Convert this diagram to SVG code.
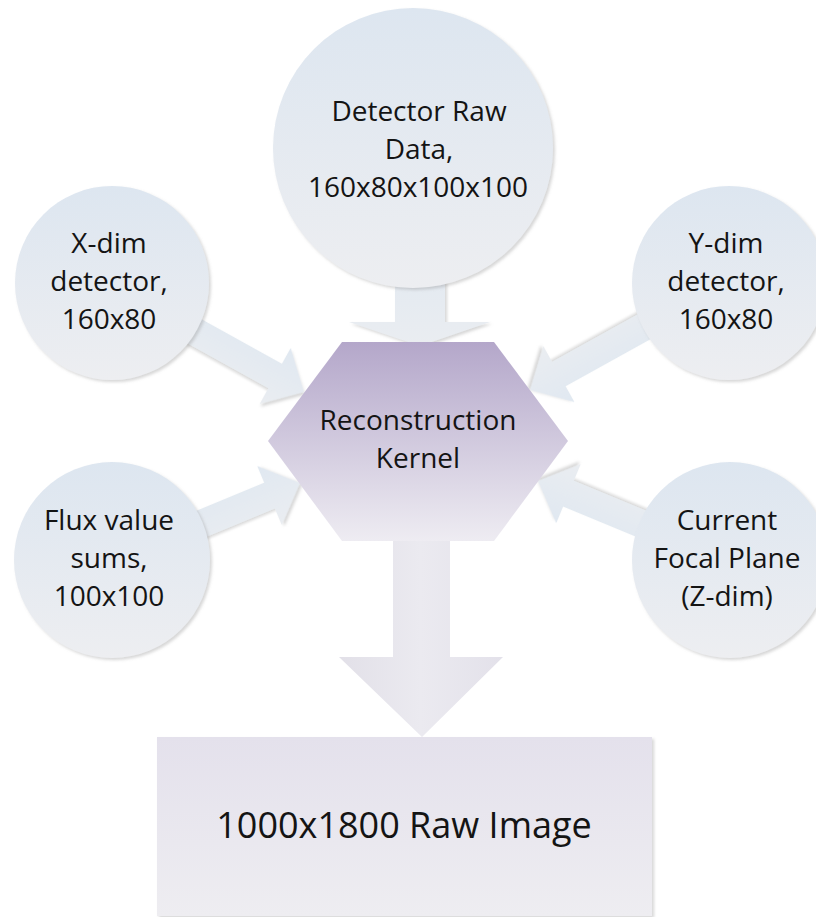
<svg xmlns="http://www.w3.org/2000/svg" width="816" height="917" viewBox="0 0 816 917">
  <defs>
    <linearGradient id="circleFill" x1="0" y1="0" x2="0" y2="1">
      <stop offset="0" stop-color="#dde6f0"/>
      <stop offset="1" stop-color="#edeef1"/>
    </linearGradient>
    <linearGradient id="arrowFill" x1="0" y1="0" x2="0" y2="1">
      <stop offset="0" stop-color="#e0e8f1"/>
      <stop offset="1" stop-color="#eaedf1"/>
    </linearGradient>
    <linearGradient id="kernelFill" x1="0" y1="0" x2="0" y2="1">
      <stop offset="0" stop-color="#b4a7ca"/>
      <stop offset="1" stop-color="#eeecf2"/>
    </linearGradient>
    <linearGradient id="imageFill" x1="0" y1="0" x2="0" y2="1">
      <stop offset="0" stop-color="#e4e1ec"/>
      <stop offset="1" stop-color="#eeedf1"/>
    </linearGradient>
    <linearGradient id="outFill" x1="0" y1="0" x2="1" y2="0">
      <stop offset="0" stop-color="#e2e0e8"/>
      <stop offset="0.5" stop-color="#ebeaf0"/>
      <stop offset="1" stop-color="#e3e1ea"/>
    </linearGradient>
    <filter id="soft" x="-10%" y="-10%" width="125%" height="125%">
      <feDropShadow dx="2" dy="2" stdDeviation="1.5" flood-color="#8a8a8a" flood-opacity="0.35"/>
    </filter>
    <!-- block arrow pointing along +x with its tip at the origin -->
    <path id="sideArrow" d="M-230,-14 L-33,-14 L-33,-32 L0,0 L-33,32 L-33,14 L-230,14 Z"/>
  </defs>
  <style>
    .circle { fill: url(#circleFill); filter: url(#soft); }
    .arrow { fill: url(#arrowFill); filter: url(#soft); }
    .label { font-family: "Open Sans", "Noto Sans", "Liberation Sans", sans-serif; font-size: 28px; fill: #141414; text-anchor: middle; }
    .big { font-size: 36px; }
  </style>

  <!-- connectors -->
  <g id="connectors">
    <use href="#sideArrow" class="arrow" transform="translate(304,392) rotate(29)"/>
    <use href="#sideArrow" class="arrow" transform="translate(530,390) rotate(151)"/>
    <use href="#sideArrow" class="arrow" transform="translate(300,483) rotate(-22.5)"/>
    <use href="#sideArrow" class="arrow" transform="translate(538,481) rotate(202.5)"/>
    <path class="arrow" d="M395,240 L445,240 L445,322 L490,322 L420,346 L349,322 L395,322 Z"/>
    <path id="out-arrow" fill="url(#outFill)" d="M393,530 L450,530 L450,657 L503,657 L422,737 L339,657 L393,657 Z"/>
  </g>

  <g id="kernel">
    <polygon points="342,342 494,342 568,441 494,541 342,541 268,441" fill="url(#kernelFill)"/>
    <text class="label" x="418" y="430">Reconstruction</text>
    <text class="label" x="418" y="468">Kernel</text>
  </g>

  <g id="raw-data">
    <circle class="circle" cx="413" cy="148" r="140"/>
    <text class="label" x="419" y="121">Detector Raw</text>
    <text class="label" x="419" y="159">Data,</text>
    <text class="label" x="418" y="197">160x80x100x100</text>
  </g>

  <g id="x-dim">
    <circle class="circle" cx="112" cy="283" r="97"/>
    <text class="label" x="109" y="253">X-dim</text>
    <text class="label" x="109" y="291">detector,</text>
    <text class="label" x="109" y="329">160x80</text>
  </g>

  <g id="y-dim">
    <circle class="circle" cx="729" cy="283" r="97"/>
    <text class="label" x="726" y="253">Y-dim</text>
    <text class="label" x="726" y="291">detector,</text>
    <text class="label" x="726" y="329">160x80</text>
  </g>

  <g id="flux">
    <circle class="circle" cx="112" cy="560" r="98"/>
    <text class="label" x="109" y="530">Flux value</text>
    <text class="label" x="109" y="568">sums,</text>
    <text class="label" x="109" y="606">100x100</text>
  </g>

  <g id="focal-plane">
    <circle class="circle" cx="730" cy="560" r="98"/>
    <text class="label" x="727" y="530">Current</text>
    <text class="label" x="727" y="568">Focal Plane</text>
    <text class="label" x="727" y="606">(Z-dim)</text>
  </g>

  <g id="raw-image">
    <rect x="157" y="737" width="495" height="179" fill="url(#imageFill)" filter="url(#soft)"/>
    <text class="label big" x="404" y="838">1000x1800 Raw Image</text>
  </g>
</svg>
